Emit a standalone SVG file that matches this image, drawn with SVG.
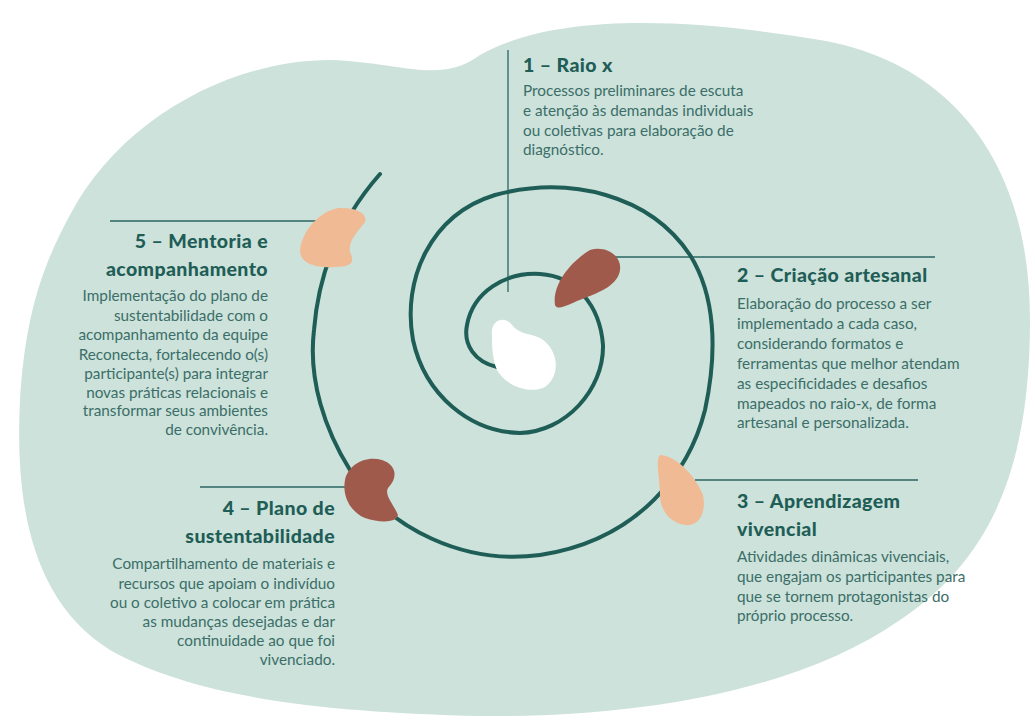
<svg xmlns="http://www.w3.org/2000/svg" width="1035" height="728" viewBox="0 0 1035 728">
<style>
.h{font-family:Lato,"Open Sans",sans-serif;font-weight:900;font-size:19.5px;letter-spacing:0.4px;fill:#1f5d57}
.b{font-family:Lato,"Open Sans",sans-serif;font-size:15.3px;fill:#3b6e68}
.r{text-anchor:end}
.ln{stroke:#2a6660;stroke-width:1.3;fill:none}
</style>
<rect width="1035" height="728" fill="#ffffff"/>
<path d="M70,215 C120,120 230,60 330,60 C400,62 440,85 480,55 C560,10 700,20 820,40 C940,60 1030,150 1030,320 C1030,470 990,560 900,620 C800,690 640,718 480,716 C330,712 200,700 110,650 C30,600 15,500 20,400 C25,320 40,270 70,215 Z" fill="#cce2da"/>
<g id="connectors">
<line class="ln" x1="508" y1="50" x2="508" y2="292"/>
<line class="ln" x1="600" y1="257" x2="935" y2="257"/>
<line class="ln" x1="110" y1="221" x2="340" y2="221"/>
<line class="ln" x1="200" y1="487" x2="345" y2="487"/>
<line class="ln" x1="695" y1="480" x2="918" y2="480"/>
<path d="M497,367 C475,362 463,345 467,325 C473,292 505,272 540,274 C575,276 600,305 603,345 C604,390 565,432 520,433 C470,432 425,395 413,340 C402,280 430,215 495,195 C570,175 650,195 690,255 C715,295 718,350 705,410 C690,470 640,540 540,555 C465,565 390,530 350,470 C325,430 308,380 314,330 C318,280 335,225 380,174" fill="none" stroke="#1f5d57" stroke-width="4" stroke-linecap="round"/>
</g>
<g id="n-center"><path d="M492,335 C490,320 505,315 512,325 C520,335 530,333 540,338 C558,348 562,375 545,387 C528,395 505,385 497,370 C492,358 492,345 492,335 Z" fill="#ffffff"/></g>
<g id="n1">
<text class="h" x="523" y="72">1 – Raio x</text>
<text class="b"><tspan x="523" y="96">Processos preliminares de escuta</tspan><tspan x="523" y="116">e atenção às demandas individuais</tspan><tspan x="523" y="136">ou coletivas para elaboração de</tspan><tspan x="523" y="155">diagnóstico.</tspan></text>
</g>
<g id="n2">
<path d="M555,305 C552,285 570,262 590,250 C605,245 622,255 620,270 C618,285 600,292 585,298 C570,303 558,312 555,305 Z" fill="#a05a4b"/>
<text class="h" x="737" y="282">2 – Criação artesanal</text>
<text class="b"><tspan x="737" y="309">Elaboração do processo a ser</tspan><tspan x="737" y="329">implementado a cada caso,</tspan><tspan x="737" y="349">considerando formatos e</tspan><tspan x="737" y="369">ferramentas que melhor atendam</tspan><tspan x="737" y="389">as especificidades e desafios</tspan><tspan x="737" y="409">mapeados no raio-x, de forma</tspan><tspan x="737" y="428">artesanal e personalizada.</tspan></text>
</g>
<g id="n3">
<path d="M660,455 C675,455 695,475 703,495 C707,515 697,527 685,525 C670,523 660,510 660,495 C660,480 655,460 660,455 Z" fill="#f0bb94"/>
<text class="h"><tspan x="737" y="508">3 – Aprendizagem</tspan><tspan x="737" y="536">vivencial</tspan></text>
<text class="b"><tspan x="737" y="562">Atividades dinâmicas vivenciais,</tspan><tspan x="737" y="582">que engajam os participantes para</tspan><tspan x="737" y="602">que se tornem protagonistas do</tspan><tspan x="737" y="621">próprio processo.</tspan></text>
</g>
<g id="n4">
<path d="M345,480 C348,465 365,455 382,460 C397,465 398,478 388,488 C384,495 394,505 398,515 C396,523 380,523 365,518 C350,512 342,495 345,480 Z" fill="#a05a4b"/>
<text class="h r"><tspan x="335" y="515">4 – Plano de</tspan><tspan x="335" y="543">sustentabilidade</tspan></text>
<text class="b r"><tspan x="335" y="569">Compartilhamento de materiais e</tspan><tspan x="335" y="589">recursos que apoiam o indivíduo</tspan><tspan x="335" y="608">ou o coletivo a colocar em prática</tspan><tspan x="335" y="627">as mudanças desejadas e dar</tspan><tspan x="335" y="646">continuidade ao que foi</tspan><tspan x="335" y="665">vivenciado.</tspan></text>
</g>
<g id="n5">
<path d="M300,250 C302,232 318,212 338,208 C355,207 368,213 365,222 C358,232 348,240 350,252 C355,262 352,267 335,267 C318,268 300,265 300,250 Z" fill="#f0bb94"/>
<text class="h r"><tspan x="268" y="248">5 – Mentoria e</tspan><tspan x="268" y="276">acompanhamento</tspan></text>
<text class="b r"><tspan x="268" y="301">Implementação do plano de</tspan><tspan x="268" y="321">sustentabilidade com o</tspan><tspan x="268" y="340">acompanhamento da equipe</tspan><tspan x="268" y="360">Reconecta, fortalecendo o(s)</tspan><tspan x="268" y="379">participante(s) para integrar</tspan><tspan x="268" y="398">novas práticas relacionais e</tspan><tspan x="268" y="416">transformar seus ambientes</tspan><tspan x="268" y="435">de convivência.</tspan></text>
</g>
</svg>
